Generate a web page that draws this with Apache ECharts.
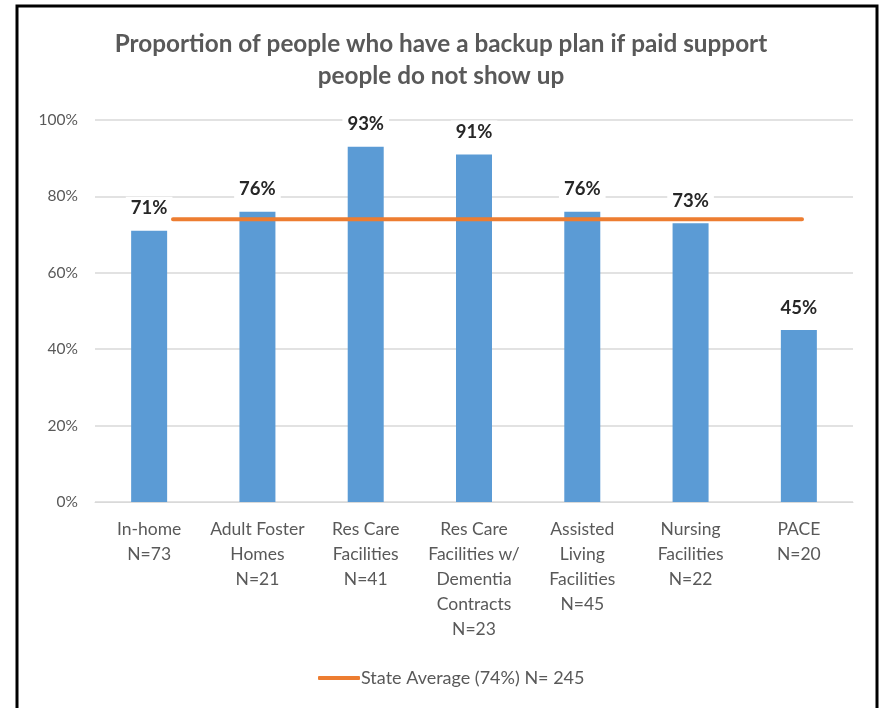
<!DOCTYPE html>
<html>
<head>
<meta charset="utf-8">
<script src="https://cdn.jsdelivr.net/npm/echarts@6/dist/echarts.min.js"></script>
<style>
  html, body { margin: 0; padding: 0; background: #fff; }
  #chart { width: 882px; height: 708px; }
</style>
</head>
<body>
<div id="chart"></div>
<script>
// Setting categories (with sample sizes) and share with a backup plan, in percent
const categories = [
  'In-home\nN=73',
  'Adult Foster\nHomes\nN=21',
  'Res Care\nFacilities\nN=41',
  'Res Care\nFacilities w/\nDementia\nContracts\nN=23',
  'Assisted\nLiving\nFacilities\nN=45',
  'Nursing\nFacilities\nN=22',
  'PACE\nN=20'
];
const backupPlanPct = [71, 76, 93, 91, 76, 73, 45];
const stateAverage = 74;
const stateAverageName = 'State Average (74%) N= 245';
const yTicks = [0, 20, 40, 60, 80, 100];

const FONT = 'Lato';
const chart = echarts.init(document.getElementById('chart'));

// State-average line: one point per category, drawn on its own (hidden) grid
const avgLine = categories.map(() => stateAverage);

chart.setOption({
  animation: false,
  textStyle: { fontFamily: FONT },
  title: {
    text: 'Proportion of people who have a backup plan if paid support\npeople do not show up',
    left: 'center',
    top: 23,
    textStyle: { fontFamily: FONT, fontSize: 24.3, fontWeight: 'bold', color: '#595959', lineHeight: 32 }
  },
  graphic: [{
    type: 'rect',
    shape: { x: 17, y: 6, width: 860, height: 740 },
    style: { fill: 'none', stroke: '#000', lineWidth: 3 },
    silent: true
  }],
  legend: {
    bottom: 16,
    left: 313,
    itemWidth: 42,
    itemHeight: 4,
    itemGap: 0,
    data: [{ name: stateAverageName, icon: 'roundRect' }],
    textStyle: { fontFamily: FONT, fontSize: 18, color: '#595959', padding: [0, 0, 0, -4] }
  },
  grid: [
    { left: 95, right: 29, top: 120, bottom: 206 },
    { left: 173, right: 80, top: 120, bottom: 206 }
  ],
  xAxis: [{
    type: 'category',
    gridIndex: 0,
    data: categories,
    axisTick: { show: false },
    axisLine: { lineStyle: { color: '#D9D9D9', width: 1 } },
    axisLabel: { fontFamily: FONT, fontSize: 17.5, color: '#595959', lineHeight: 25, margin: 15, interval: 0 }
  }, {
    type: 'category',
    gridIndex: 1,
    data: categories,
    boundaryGap: false,
    show: false
  }],
  yAxis: [{
    type: 'value',
    gridIndex: 0,
    min: 0,
    max: 100,
    interval: 20,
    axisLabel: {
      fontFamily: FONT, fontSize: 15.5, color: '#595959', margin: 17,
      formatter: v => yTicks.includes(v) ? v + '%' : ''
    },
    splitLine: { lineStyle: { color: '#D9D9D9', width: 1.5 } },
    axisLine: { show: false },
    axisTick: { show: false }
  }, {
    type: 'value',
    gridIndex: 1,
    min: 0,
    max: 100,
    show: false
  }],
  series: [{
    type: 'bar',
    xAxisIndex: 0,
    yAxisIndex: 0,
    data: backupPlanPct,
    barWidth: 36,
    itemStyle: { color: '#5B9BD5' },
    label: {
      show: true,
      position: 'top',
      distance: 11,
      formatter: '{c}%',
      fontFamily: FONT,
      fontSize: 18.5,
      fontWeight: 'bold',
      color: '#262626',
      backgroundColor: '#fff',
      padding: [2, 5]
    },
    z: 2
  }, {
    type: 'line',
    name: stateAverageName,
    xAxisIndex: 1,
    yAxisIndex: 1,
    data: avgLine,
    symbol: 'none',
    lineStyle: { color: '#ED7D31', width: 4, cap: 'round' },
    itemStyle: { color: '#ED7D31' },
    z: 3
  }]
});
</script>
</body>
</html>
